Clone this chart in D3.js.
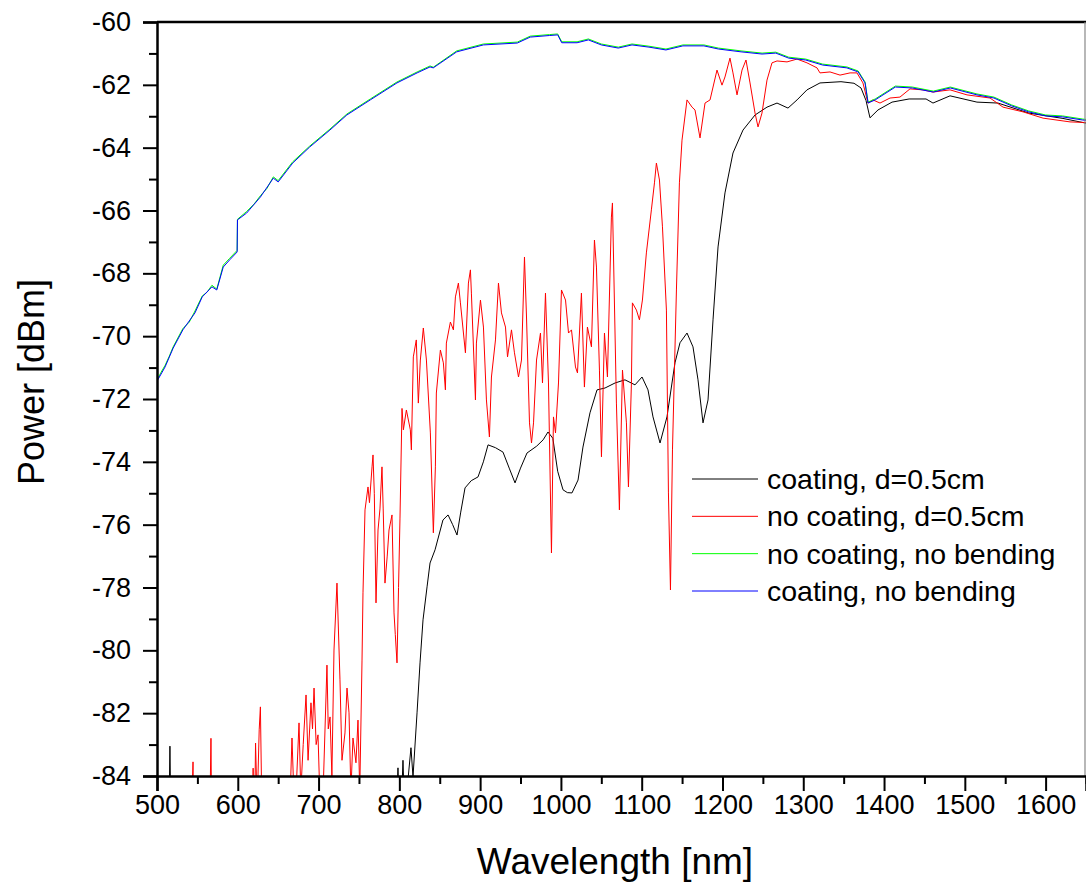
<!DOCTYPE html>
<html>
<head>
<meta charset="utf-8">
<script src="https://cdn.jsdelivr.net/npm/d3@7"></script>
<style>
  body { margin: 0; background: #fff; }
  svg { display: block; }
  text { font-family: Arial, "Liberation Sans", sans-serif; fill: #000; }
</style>
</head>
<body>
<svg id="chart" width="1086" height="891"></svg>
<script>
// Axis ticks
const xTicks = [500, 600, 700, 800, 900, 1000, 1100, 1200, 1300, 1400, 1500, 1600];
const xMinorTicks = [550, 650, 750, 850, 950, 1050, 1150, 1250, 1350, 1450, 1550, 1650];
const yTicks = [-60, -62, -64, -66, -68, -70, -72, -74, -76, -78, -80, -82, -84];
const yMinorTicks = [-61, -63, -65, -67, -69, -71, -73, -75, -77, -79, -81, -83];

// Series names (legend order)
const seriesNames = ["coating, d=0.5cm", "no coating, d=0.5cm", "no coating, no bending", "coating, no bending"];
const seriesColors = ["#000000", "#ff0000", "#00ff00", "#0000ff"];

// coating, d=0.5cm  — wavelength [nm] / power [dBm]
const coatBendNm = [500, 512, 514.5, 516, 517.5, 520, 790, 795, 798.3, 801, 804.5, 807, 810, 814.4, 816.9, 821.9, 825.6, 829.3, 834.3, 838, 844.2, 854, 860.3, 866, 871.4, 876, 881.3, 889, 897.4, 904, 909.8, 919, 928.3, 936, 943.2, 950, 958, 970, 978, 984, 990, 996, 1002.6, 1008, 1013.7, 1021.2, 1027.3, 1036, 1044.7, 1054.6, 1067, 1079.3, 1091.7, 1100.4, 1107.8, 1114, 1122.7, 1131.3, 1141.2, 1147.4, 1156.1, 1163.5, 1169.7, 1175.9, 1182.1, 1188.3, 1194.5, 1203.1, 1213, 1225.4, 1240.3, 1255.1, 1267.5, 1281.1, 1292.3, 1304.6, 1320.7, 1346.7, 1362.8, 1371.5, 1377.7, 1382.6, 1392.5, 1409.9, 1431, 1452, 1460.6, 1481.7, 1515, 1541, 1579.4, 1621.5, 1650];
const coatBendDbm = [-88, -88, -86, -83.05, -86, -88, -88, -86, -83.74, -86, -83.5, -85.5, -84.3, -83.1, -84.03, -81.99, -80.4, -79.03, -77.98, -77.22, -76.8, -75.85, -75.69, -76.0, -76.33, -75.6, -74.83, -74.6, -74.48, -74.0, -73.46, -73.55, -73.69, -74.2, -74.67, -74.2, -73.72, -73.5, -73.3, -73.05, -73.25, -74.3, -74.89, -74.98, -74.99, -74.58, -73.53, -72.44, -71.71, -71.65, -71.49, -71.39, -71.55, -71.3, -71.71, -72.57, -73.4, -72.57, -70.85, -70.21, -69.9, -70.34, -71.39, -72.76, -72.03, -69.48, -67.16, -65.44, -64.17, -63.44, -62.96, -62.71, -62.58, -62.74, -62.48, -62.16, -61.94, -61.9, -61.95, -62.1, -62.5, -63.05, -62.8, -62.55, -62.45, -62.45, -62.58, -62.35, -62.55, -62.58, -62.9, -63.07, -63.22];

// no coating, d=0.5cm
const noCoatBendNm = [500, 540, 543, 544.6, 546, 564, 565.5, 566.8, 568.5, 616, 619, 620.5, 622, 624, 626.5, 628, 629.5, 630.5, 632, 662, 665, 667.1, 670, 673, 675.8, 678, 681, 684.5, 687, 690.6, 692.5, 694.4, 697, 699.3, 702, 706, 710.4, 712, 714.2, 716.5, 719.1, 722.8, 726.5, 729, 732.7, 735.2, 737.7, 740, 742.6, 746.3, 748.8, 751, 753.8, 755, 757.5, 761.2, 763, 766.2, 767.4, 769, 771.1, 773.6, 776, 778.5, 780, 782.2, 785, 787.2, 790.9, 793.4, 795, 797.1, 799, 800.8, 803.3, 805, 808.7, 813.6, 814.9, 817.3, 821, 823.5, 826, 829.7, 833.5, 838.4, 842.1, 844.6, 845.8, 850.8, 854.5, 857, 858.2, 863.2, 866.9, 869.4, 873.1, 875.6, 881.8, 885.5, 888, 889.2, 894.2, 895.4, 900.4, 904.1, 907.8, 911.5, 914, 919, 922.7, 926.4, 931.4, 933.9, 938.8, 942.5, 947.5, 951.2, 954.9, 957.4, 961.1, 963.6, 966.1, 969.8, 974.7, 977.2, 980.9, 984.6, 988.3, 990.8, 993.3, 997, 1000.7, 1005.7, 1009.4, 1013.1, 1018, 1020.5, 1025.4, 1029.1, 1032.8, 1037.8, 1041.5, 1044, 1047.7, 1050.2, 1053.9, 1057.6, 1062.5, 1063.8, 1068.7, 1072.4, 1076.2, 1081.1, 1083.6, 1087.3, 1088.5, 1093.5, 1097.2, 1100.9, 1105.8, 1112, 1115.8, 1118.2, 1122, 1125.7, 1130.6, 1133.1, 1135.6, 1138.1, 1143, 1146.7, 1149.9, 1156.1, 1162.3, 1166, 1172.2, 1178.4, 1184.6, 1193.2, 1199.4, 1203.1, 1209.3, 1213, 1218, 1224.2, 1229.1, 1234.1, 1240.3, 1244, 1248.9, 1255.1, 1261.3, 1267.5, 1279.9, 1292.3, 1304.6, 1317, 1320.7, 1333.1, 1345.5, 1357.9, 1366.5, 1373.9, 1380.1, 1386.3, 1395, 1407.4, 1419.7, 1432.1, 1448.2, 1460.6, 1481.7, 1502.7, 1531.2, 1547.3, 1572, 1596.8, 1630.2, 1650];
const noCoatBendDbm = [-90, -90, -85, -83.55, -88, -88, -85, -82.8, -88, -88, -83.75, -86, -82.95, -85, -82.53, -81.8, -84.5, -86, -90, -90, -84.5, -82.79, -85, -84, -82.31, -84.5, -83, -81.42, -83.5, -81.67, -82.5, -81.2, -83, -82.69, -85, -84.2, -80.47, -82.5, -82.12, -84, -79.99, -77.86, -80.94, -83.5, -82.63, -81.2, -81.99, -84.5, -82.79, -83.58, -82.22, -84.5, -80.31, -78.17, -75.53, -74.8, -75.3, -74.16, -73.78, -75, -78.49, -76.17, -75.5, -74.16, -75.5, -77.86, -77.0, -76.17, -75.69, -78.81, -79.5, -80.4, -78, -75.79, -72.3, -72.98, -72.35, -72.98, -73.62, -70.66, -70.12, -72.13, -70.76, -69.74, -70.76, -73.08, -76.26, -74.16, -71.81, -70.44, -70.85, -71.71, -70.22, -69.55, -69.8, -68.75, -68.31, -68.94, -70.53, -68.31, -67.89, -68.63, -72.03, -70.22, -68.85, -69.71, -72.03, -73.21, -71.3, -70.12, -68.31, -69.26, -69.71, -70.66, -69.8, -70.53, -71.3, -70.76, -67.48, -69.39, -72.76, -73.4, -72.76, -70.76, -69.9, -71.49, -68.63, -71.49, -76.9, -72.57, -73.08, -71.49, -68.53, -68.85, -69.9, -69.8, -70.98, -71.17, -68.63, -71.62, -69.71, -70.34, -66.94, -67.8, -71.08, -73.84, -69.9, -71.3, -66.21, -65.76, -72.13, -75.53, -71.08, -72.76, -74.8, -71.49, -68.94, -69.17, -69.48, -68.85, -67.35, -65.98, -65.12, -64.49, -65.03, -66.52, -69.17, -74.99, -78.08, -73.62, -68.53, -65.12, -63.76, -62.48, -62.71, -62.8, -63.69, -62.58, -62.48, -61.53, -62.01, -61.75, -61.15, -61.62, -62.32, -61.53, -61.21, -61.94, -62.9, -63.34, -62.9, -61.85, -61.3, -61.24, -61.27, -61.18, -61.3, -61.46, -61.62, -61.59, -61.69, -61.62, -61.62, -61.94, -62.58, -62.48, -62.58, -62.42, -62.39, -62.13, -62.16, -62.23, -62.16, -62.32, -62.42, -62.71, -62.86, -63.06, -63.18, -63.2];

// no coating, no bending
const noCoatStraightNm = [500, 505, 510, 515, 520, 532, 540, 547, 556, 562, 568, 574, 582, 590, 599.2, 599.6, 611, 620, 628, 636, 644, 650, 668, 689, 714, 735, 764, 797, 822, 838, 842, 871, 904, 946, 962, 986, 996, 1001, 1020, 1034, 1050, 1071, 1088, 1109, 1130, 1151, 1177, 1195, 1223, 1249, 1266, 1282, 1303, 1324, 1354, 1368, 1376.5, 1380.2, 1389, 1414, 1435, 1461, 1482, 1515, 1536, 1558, 1579, 1600, 1621, 1646, 1650];
const noCoatStraightDbm = [-71.4, -71.15, -70.93, -70.65, -70.34, -69.76, -69.55, -69.2, -68.72, -68.6, -68.38, -68.5, -67.74, -67.52, -67.27, -66.28, -66.03, -65.8, -65.53, -65.3, -64.93, -65.05, -64.45, -63.95, -63.41, -62.93, -62.45, -61.91, -61.59, -61.4, -61.44, -60.92, -60.7, -60.64, -60.45, -60.4, -60.38, -60.63, -60.63, -60.54, -60.7, -60.8, -60.7, -60.77, -60.86, -60.73, -60.73, -60.83, -60.92, -60.99, -60.96, -61.12, -61.18, -61.34, -61.43, -61.56, -61.91, -62.55, -62.45, -62.04, -62.07, -62.2, -62.07, -62.29, -62.39, -62.64, -62.83, -62.96, -62.99, -63.09, -63.1];

// coating, no bending
const coatStraightNm = [500, 501, 510, 520, 532, 547, 556, 568, 574, 582, 590, 599.2, 599.6, 611, 628, 644, 650, 668, 689, 714, 735, 764, 797, 822, 838, 842, 871, 904, 946, 962, 986, 996, 1001, 1020, 1034, 1050, 1071, 1088, 1109, 1130, 1151, 1177, 1195, 1223, 1249, 1266, 1282, 1303, 1324, 1354, 1368, 1376.5, 1380.2, 1389, 1414, 1435, 1461, 1482, 1515, 1536, 1558, 1579, 1600, 1621, 1646, 1650];
const coatStraightDbm = [-71.43, -71.39, -70.98, -70.38, -69.8, -69.26, -68.75, -68.43, -68.53, -67.8, -67.57, -67.32, -66.3, -66.08, -65.57, -64.97, -65.09, -64.49, -63.98, -63.44, -62.96, -62.48, -61.94, -61.62, -61.43, -61.46, -60.95, -60.73, -60.67, -60.48, -60.43, -60.41, -60.66, -60.66, -60.57, -60.73, -60.83, -60.73, -60.8, -60.89, -60.76, -60.76, -60.86, -60.95, -61.02, -60.99, -61.15, -61.21, -61.37, -61.46, -61.59, -61.94, -62.58, -62.48, -62.07, -62.1, -62.23, -62.1, -62.32, -62.42, -62.67, -62.86, -62.99, -63.02, -63.12, -63.13];

const seriesNm = [coatBendNm, noCoatBendNm, noCoatStraightNm, coatStraightNm];
const seriesDbm = [coatBendDbm, noCoatBendDbm, noCoatStraightDbm, coatStraightDbm];

const svg = d3.select("#chart");
const plot = { left: 157, right: 1086, top: 22, bottom: 776 };

const x = d3.scaleLinear().domain([500, 1650]).range([plot.left, plot.right]);
const y = d3.scaleLinear().domain([-84, -60]).range([plot.bottom, plot.top]);

// clip the traces to the plotting area
svg.append("defs").append("clipPath").attr("id", "plotClip")
  .append("rect")
  .attr("x", plot.left).attr("y", plot.top)
  .attr("width", plot.right - plot.left).attr("height", plot.bottom - plot.top);

const line = d3.line().x(d => x(d[0])).y(d => y(d[1]));

const traces = svg.append("g").attr("clip-path", "url(#plotClip)");
seriesNm.forEach((nm, i) => {
  const pts = nm.map((w, k) => [w, seriesDbm[i][k]]);
  traces.append("path")
    .datum(pts)
    .attr("fill", "none")
    .attr("stroke", seriesColors[i])
    .attr("stroke-width", 1)
    .attr("stroke-linejoin", "round")
    .attr("d", line);
});

// frame: top and right edges
svg.append("line")
  .attr("x1", plot.left).attr("x2", plot.right)
  .attr("y1", plot.top).attr("y2", plot.top)
  .attr("stroke", "#000").attr("stroke-width", 2.5);
svg.append("line")
  .attr("x1", plot.right - 1).attr("x2", plot.right - 1)
  .attr("y1", plot.top).attr("y2", plot.bottom)
  .attr("stroke", "#888").attr("stroke-width", 1.2);

// bottom axis
const xAxisG = svg.append("g").attr("transform", `translate(0,${plot.bottom})`);
xAxisG.call(d3.axisBottom(x).tickValues(xTicks).tickSize(15).tickPadding(4).tickFormat(d => String(d)));
const xMinorG = svg.append("g").attr("transform", `translate(0,${plot.bottom})`);
xMinorG.call(d3.axisBottom(x).tickValues(xMinorTicks).tickSize(8).tickFormat(""));
xMinorG.select(".domain").remove();

// left axis
const yAxisG = svg.append("g").attr("transform", `translate(${plot.left},0)`);
yAxisG.call(d3.axisLeft(y).tickValues(yTicks).tickSize(14).tickPadding(12).tickFormat(d => String(d)));
const yMinorG = svg.append("g").attr("transform", `translate(${plot.left},0)`);
yMinorG.call(d3.axisLeft(y).tickValues(yMinorTicks).tickSize(8).tickFormat(""));
yMinorG.select(".domain").remove();

svg.selectAll(".domain").attr("stroke", "#000").attr("stroke-width", 2.5);
svg.selectAll(".tick line").attr("stroke", "#000").attr("stroke-width", 2);
svg.selectAll(".tick text")
  .style("font-family", "Arial, 'Liberation Sans', sans-serif")
  .style("font-size", "27px")
  .attr("fill", "#000");

// axis titles
svg.append("text")
  .attr("x", 615)
  .attr("y", 874)
  .attr("text-anchor", "middle")
  .style("font-size", "37px")
  .text("Wavelength [nm]");

svg.append("text")
  .attr("transform", `translate(44, ${382}) rotate(-90)`)
  .attr("text-anchor", "middle")
  .style("font-size", "36px")
  .text("Power [dBm]");

// legend
const legend = svg.append("g");
const legendY = d3.scalePoint().domain(seriesNames).range([479, 591]);
seriesNames.forEach((name, i) => {
  const ly = legendY(name);
  legend.append("line")
    .attr("x1", 692).attr("x2", 758)
    .attr("y1", ly).attr("y2", ly)
    .attr("stroke", seriesColors[i]).attr("stroke-width", 1);
  legend.append("text")
    .attr("x", 767).attr("y", ly)
    .attr("dy", "0.35em")
    .style("font-size", "28.5px")
    .text(name);
});
</script>
</body>
</html>
